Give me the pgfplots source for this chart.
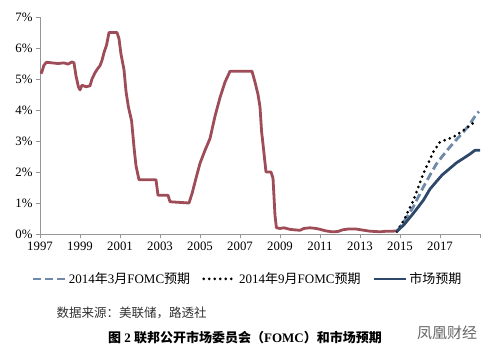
\documentclass[border=0pt]{standalone}
\usepackage{fontspec}
\setmainfont{Liberation Serif}
\newfontfamily\cjk{Noto Sans CJK SC}
\usepackage{pgfplots}
\pgfplotsset{compat=1.18}
\definecolor{ffr}{RGB}{158,76,88}
\definecolor{mkt}{RGB}{45,72,105}
\definecolor{mar}{RGB}{110,138,168}
\definecolor{axg}{RGB}{150,150,150}
\begin{document}
\begin{tikzpicture}
\path[use as bounding box] (-40pt,-123pt) rectangle (453pt,234pt);
\begin{axis}[
  at={(0pt,0pt)}, anchor=south west,
  scale only axis, width=440pt, height=217pt,
  xmin=1997, xmax=2019, ymin=0, ymax=7,
  axis x line*=bottom, axis y line*=left,
  axis line style={axg, line width=0.8pt},
  tick style={axg, line width=0.8pt},
  tick align=outside, major tick length=4pt,
  xtick={1997,1999,2001,2003,2005,2007,2009,2011,2013,2015,2017,2019},
  xticklabels={1997,1999,2001,2003,2005,2007,2009,2011,2013,2015,2017,{}},
  ytick={0,1,2,3,4,5,6,7},
  yticklabels={0\%,1\%,2\%,3\%,4\%,5\%,6\%,7\%},
  ticklabel style={font=\fontsize{12.8}{14}\selectfont},
  legend columns=3,
  legend style={at={(0.472,-0.207)}, anchor=center, draw=none, fill=none,
    font=\fontsize{13}{15}\selectfont,
    /tikz/every even column/.append style={column sep=10pt}},
  legend image code/.code={\draw[#1] (0pt,0pt) -- (32pt,0pt);},
]
\addplot[ffr, line width=2.8pt, line join=round, forget plot] coordinates {
(1997.0,5.25)(1997.08,5.2)(1997.2,5.45)(1997.33,5.54)(1997.6,5.52)(1997.9,5.5)(1998.2,5.52)(1998.4,5.48)(1998.6,5.55)(1998.7,5.52)(1998.8,5.1)(1998.92,4.75)(1999.0,4.65)(1999.1,4.8)(1999.3,4.75)(1999.5,4.78)(1999.6,5.0)(1999.75,5.2)(1999.9,5.35)(2000.0,5.43)(2000.1,5.6)(2000.2,5.85)(2000.33,6.1)(2000.45,6.5)(2000.85,6.5)(2000.95,6.3)(2001.05,5.8)(2001.2,5.3)(2001.3,4.6)(2001.42,4.1)(2001.58,3.65)(2001.7,2.8)(2001.8,2.2)(2001.95,1.75)(2002.8,1.75)(2002.9,1.25)(2003.4,1.25)(2003.5,1.04)(2004.45,1.0)(2004.6,1.3)(2004.8,1.8)(2005.0,2.28)(2005.25,2.7)(2005.5,3.08)(2005.75,3.8)(2006.0,4.4)(2006.25,4.9)(2006.5,5.25)(2007.6,5.25)(2007.75,4.9)(2007.9,4.5)(2008.0,4.1)(2008.08,3.3)(2008.15,2.9)(2008.3,2.0)(2008.55,2.0)(2008.65,1.8)(2008.75,0.6)(2008.82,0.2)(2009.0,0.18)(2009.2,0.2)(2009.5,0.15)(2009.8,0.13)(2010.0,0.12)(2010.2,0.18)(2010.5,0.2)(2010.8,0.18)(2011.0,0.15)(2011.3,0.1)(2011.6,0.07)(2011.9,0.08)(2012.1,0.13)(2012.4,0.16)(2012.8,0.16)(2013.0,0.14)(2013.2,0.12)(2013.5,0.09)(2013.8,0.08)(2014.0,0.07)(2014.3,0.09)(2014.6,0.09)(2014.85,0.1)
};
\addplot[mar, line width=2.8pt, dash pattern=on 8pt off 4pt] coordinates {
(2014.85,0.08)(2015.2,0.4)(2015.67,0.88)(2016.17,1.52)(2016.5,1.9)(2016.83,2.27)(2017.17,2.55)(2017.5,2.81)(2017.83,3.05)(2018.17,3.29)(2018.5,3.55)(2018.83,3.88)(2018.95,3.95)
};
\addlegendentry{2014{\cjk 年}3{\cjk 月}FOMC{\cjk 预期}}
\addplot[black, line width=3pt, line cap=round, dash pattern=on 0pt off 5.5pt] coordinates {
(2014.85,0.08)(2015.2,0.45)(2015.67,1.09)(2016.17,1.95)(2016.67,2.65)(2017.0,2.97)(2017.33,3.05)(2017.67,3.13)(2018.17,3.34)(2018.5,3.5)(2018.83,3.66)
};
\addlegendentry{2014{\cjk 年}9{\cjk 月}FOMC{\cjk 预期}}
\addplot[mkt, line width=2.8pt, line join=round] coordinates {
(2014.83,0.08)(2015.2,0.3)(2015.67,0.67)(2016.17,1.09)(2016.5,1.45)(2016.83,1.7)(2017.1,1.9)(2017.5,2.12)(2017.83,2.3)(2018.17,2.44)(2018.5,2.58)(2018.75,2.7)(2019.0,2.7)
};
\addlegendentry{{\cjk 市场预期}}
\end{axis}
\node[anchor=west, font=\fontsize{12.5}{14}\selectfont\cjk, text=black!80] at (13pt,-79pt) {数据来源：美联储，路透社};
\node[anchor=center, font=\fontsize{13}{15}\selectfont\bfseries] at (205pt,-104pt) {{\cjk 图} 2 {\cjk 联邦公开市场委员会（}FOMC{\cjk ）和市场预期}};
\node[anchor=center, font=\fontsize{15}{17}\selectfont\cjk, text=black!60] at (407pt,-99pt) {凤凰财经};
\end{tikzpicture}
\end{document}
